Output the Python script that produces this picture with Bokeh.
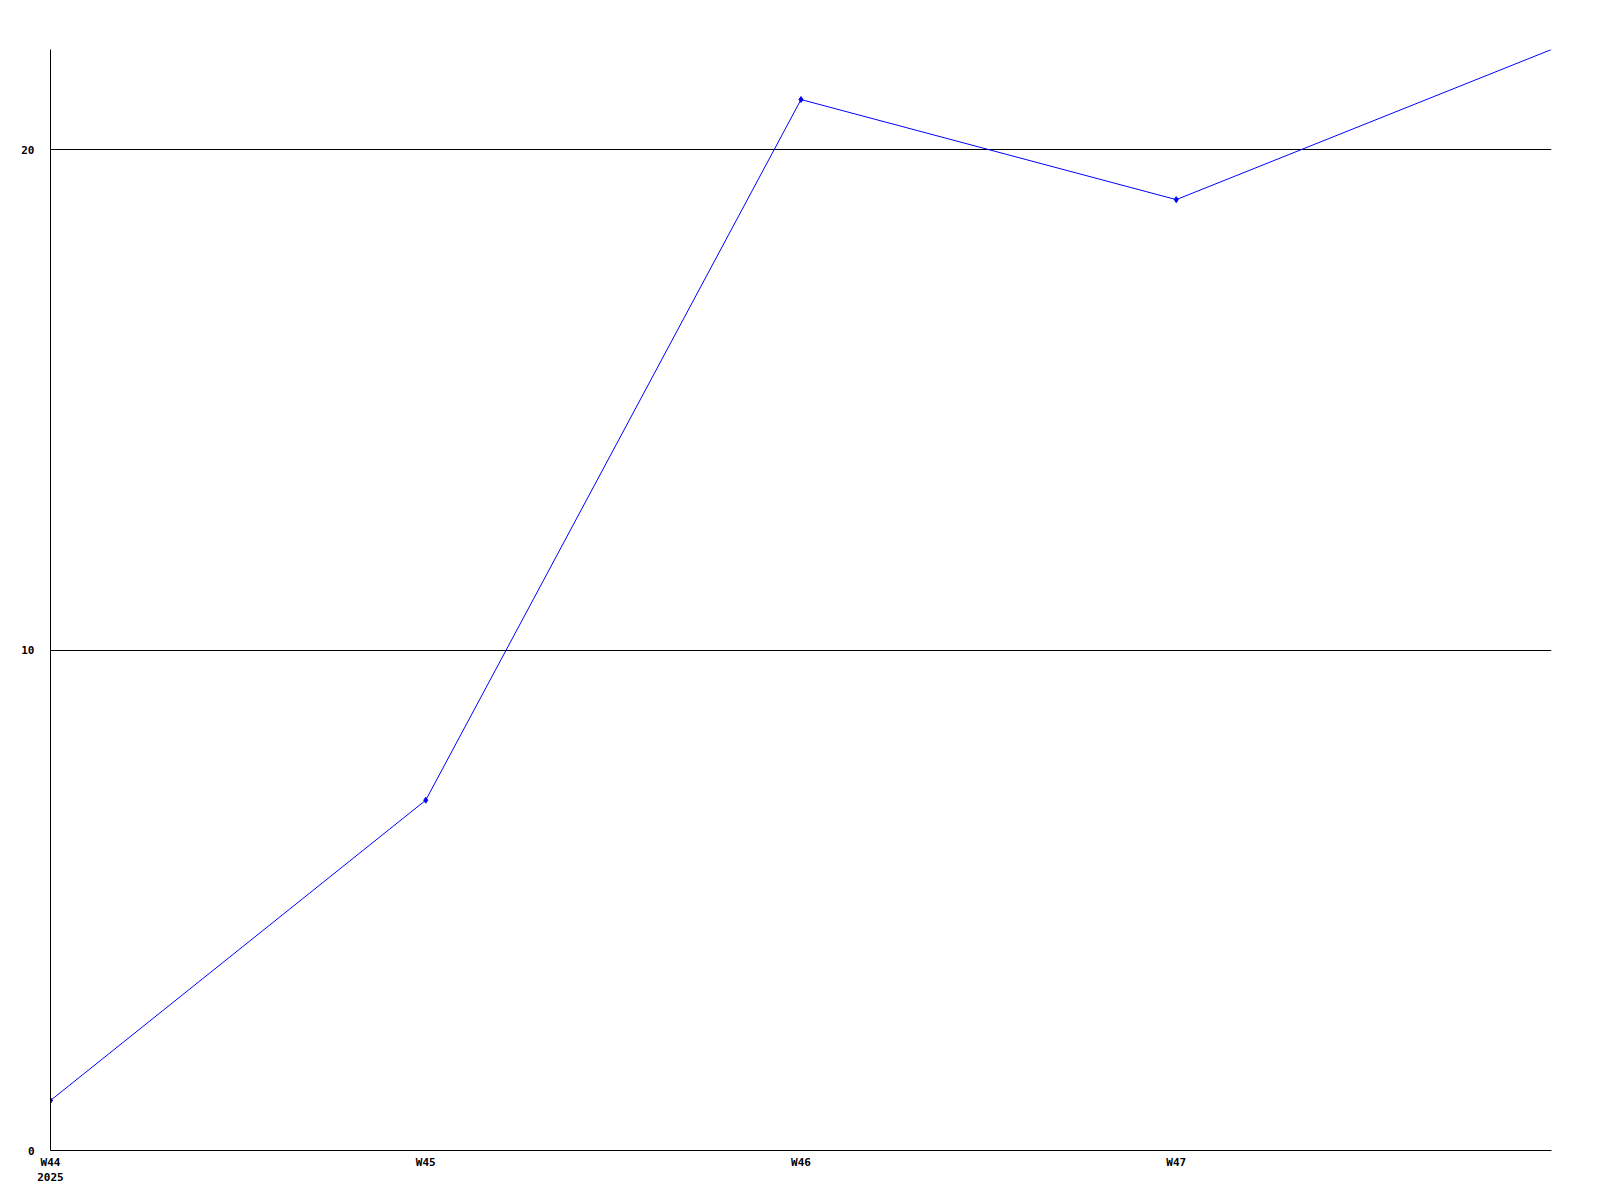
from bokeh.plotting import figure
from bokeh.models import FixedTicker, Range1d
from bokeh.embed import file_html
from bokeh.resources import INLINE

weeks = ["W44", "W45", "W46", "W47", "W48"]
values = [1, 7, 21, 19, 22]
tick_labels = ["W44\n2025", "W45", "W46", "W47"]
y_ticks = [0, 10, 20]

xs = list(range(len(weeks)))

p = figure(width=1584, height=1187, output_backend="svg", toolbar_location=None,
           x_range=Range1d(0, len(weeks) - 1), y_range=Range1d(0, 22),
           min_border_left=50, min_border_top=49, min_border_right=33, min_border_bottom=31)
p.outline_line_color = None
p.background_fill_color = "white"
p.border_fill_color = "white"

p.line(xs, values, line_color="#0000ff", line_width=1)
p.scatter(xs[:-1], values[:-1], marker="diamond", size=6, color="#0000ff")

font = "DejaVu Sans Mono"
p.xaxis.ticker = FixedTicker(ticks=xs[:-1])
p.xaxis.major_label_overrides = {i: t for i, t in enumerate(tick_labels)}
p.yaxis.ticker = FixedTicker(ticks=y_ticks)
for ax in (p.xaxis[0], p.yaxis[0]):
    ax.axis_line_color = "black"
    ax.major_tick_out = 0
    ax.major_tick_in = 0
    ax.minor_tick_out = 0
    ax.minor_tick_in = 0
    ax.major_label_text_font = font
    ax.major_label_text_font_style = "bold"
    ax.major_label_text_font_size = "11px"
    ax.major_label_text_color = "black"
p.xaxis.major_label_standoff = 5
p.yaxis.major_label_standoff = 16

p.xgrid.grid_line_color = None
p.ygrid.ticker = FixedTicker(ticks=[10, 20])
p.ygrid.grid_line_color = "black"
p.ygrid.grid_line_alpha = 1.0

open("out.html", "w").write(file_html(p, INLINE))
